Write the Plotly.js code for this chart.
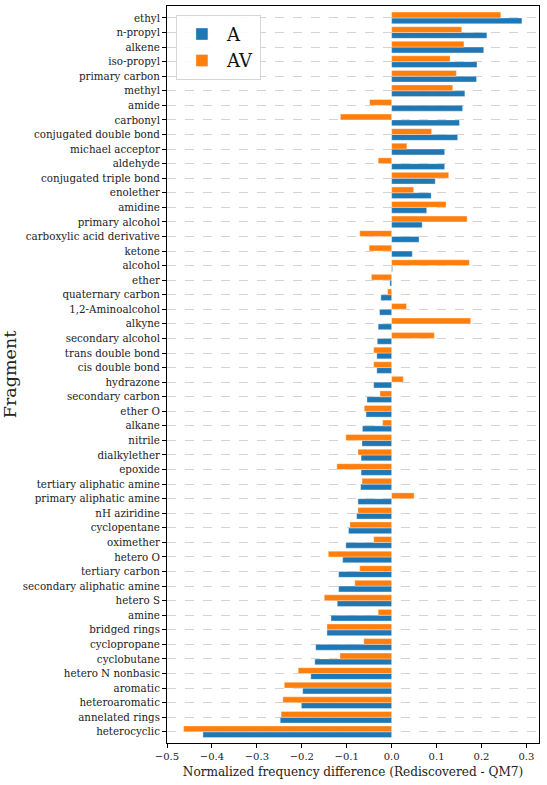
<!DOCTYPE html>
<html>
<head>
<meta charset="utf-8">
<script src="https://cdn.plot.ly/plotly-3.0.1.min.js"></script>
<style>
  html, body { margin: 0; padding: 0; background: #fff; }
  #chart { width: 547px; height: 785px; }
</style>
</head>
<body>
<div id="chart"></div>
<script>
// Fragment names, top to bottom
const fragments = [
  "ethyl", "n-propyl", "alkene", "iso-propyl", "primary carbon", "methyl",
  "amide", "carbonyl", "conjugated double bond", "michael acceptor", "aldehyde",
  "conjugated triple bond", "enolether", "amidine", "primary alcohol",
  "carboxylic acid derivative", "ketone", "alcohol", "ether", "quaternary carbon",
  "1,2-Aminoalcohol", "alkyne", "secondary alcohol", "trans double bond",
  "cis double bond", "hydrazone", "secondary carbon", "ether O", "alkane",
  "nitrile", "dialkylether", "epoxide", "tertiary aliphatic amine",
  "primary aliphatic amine", "nH aziridine", "cyclopentane", "oximether",
  "hetero O", "tertiary carbon", "secondary aliphatic amine", "hetero S",
  "amine", "bridged rings", "cyclopropane", "cyclobutane", "hetero N nonbasic",
  "aromatic", "heteroaromatic", "annelated rings", "heterocyclic"
];

// Normalized frequency difference (Rediscovered - QM7), model A
const valuesA = [
  0.290, 0.212, 0.205, 0.190, 0.189, 0.163,
  0.158, 0.151, 0.147, 0.118, 0.118,
  0.097, 0.088, 0.078, 0.068,
  0.061, 0.046, 0.002, -0.004, -0.024,
  -0.027, -0.030, -0.032, -0.033,
  -0.033, -0.040, -0.055, -0.057, -0.065,
  -0.066, -0.068, -0.068, -0.069,
  -0.075, -0.078, -0.096, -0.102,
  -0.109, -0.118, -0.118, -0.121,
  -0.135, -0.144, -0.169, -0.171, -0.180,
  -0.198, -0.201, -0.248, -0.420
];

// Normalized frequency difference (Rediscovered - QM7), model AV
const valuesAV = [
  0.243, 0.156, 0.161, 0.130, 0.144, 0.136,
  -0.049, -0.114, 0.089, 0.034, -0.030,
  0.127, 0.049, 0.121, 0.168,
  -0.071, -0.050, 0.173, -0.045, -0.009,
  0.033, 0.176, 0.095, -0.040,
  -0.040, 0.026, -0.026, -0.061, -0.020,
  -0.102, -0.075, -0.122, -0.066,
  0.050, -0.075, -0.093, -0.040,
  -0.141, -0.071, -0.082, -0.150,
  -0.030, -0.144, -0.062, -0.115, -0.208,
  -0.239, -0.242, -0.246, -0.463
];

const xTicks = [-0.5, -0.4, -0.3, -0.2, -0.1, 0.0, 0.1, 0.2, 0.3];

const serif = "DejaVu Serif, serif";
const edge = { color: "rgba(255,255,255,0.45)", width: 0.8 };

// Blue bar in the lower half of each row, orange in the upper half
const traceA = {
  type: "bar", orientation: "h", name: "A",
  x: valuesA, y: fragments,
  width: 0.4, offset: 0,
  marker: { color: "#1f77b4", line: edge }
};
const traceAV = {
  type: "bar", orientation: "h", name: "AV",
  x: valuesAV, y: fragments,
  width: 0.4, offset: -0.4,
  marker: { color: "#ff7f0e", line: edge }
};

const layout = {
  width: 547, height: 785,
  margin: { l: 167, r: 8, t: 6, b: 42 },
  paper_bgcolor: "#fff", plot_bgcolor: "#fff",
  barmode: "overlay",
  showlegend: true,
  font: { family: serif, color: "#222", size: 10 },
  legend: {
    x: 0.024, y: 0.988, xanchor: "left", yanchor: "top",
    bgcolor: "rgba(255,255,255,0.9)", bordercolor: "#d6d6d6", borderwidth: 1,
    font: { family: serif, size: 18, color: "#111" },
    itemwidth: 40, tracegroupgap: 4
  },
  xaxis: {
    range: [-0.5, 0.328],
    tickvals: xTicks, tickformat: ".1f",
    ticks: "outside", ticklen: 4, tickcolor: "#000",
    showgrid: false, zeroline: false,
    showline: true, linecolor: "#000", linewidth: 1, mirror: true,
    tickfont: { family: serif, size: 10, color: "#222" },
    title: { text: "Normalized frequency difference (Rediscovered - QM7)",
             font: { family: serif, size: 12.1, color: "#222" }, standoff: 6 }
  },
  yaxis: {
    type: "category",
    categoryorder: "array", categoryarray: fragments,
    range: [49.77, -0.82],
    ticks: "outside", ticklen: 4, tickcolor: "#000",
    showgrid: true, gridcolor: "#c8c8c8", griddash: "dash", gridwidth: 0.8,
    zeroline: false,
    showline: true, linecolor: "#000", linewidth: 1, mirror: true,
    tickfont: { family: serif, size: 10.3, color: "#222" },
    title: { text: "Fragment", font: { family: serif, size: 17.5, color: "#222" }, standoff: 10 }
  }
};

Plotly.newPlot("chart", [traceA, traceAV], layout, { displayModeBar: false, staticPlot: true });
</script>
</body>
</html>
